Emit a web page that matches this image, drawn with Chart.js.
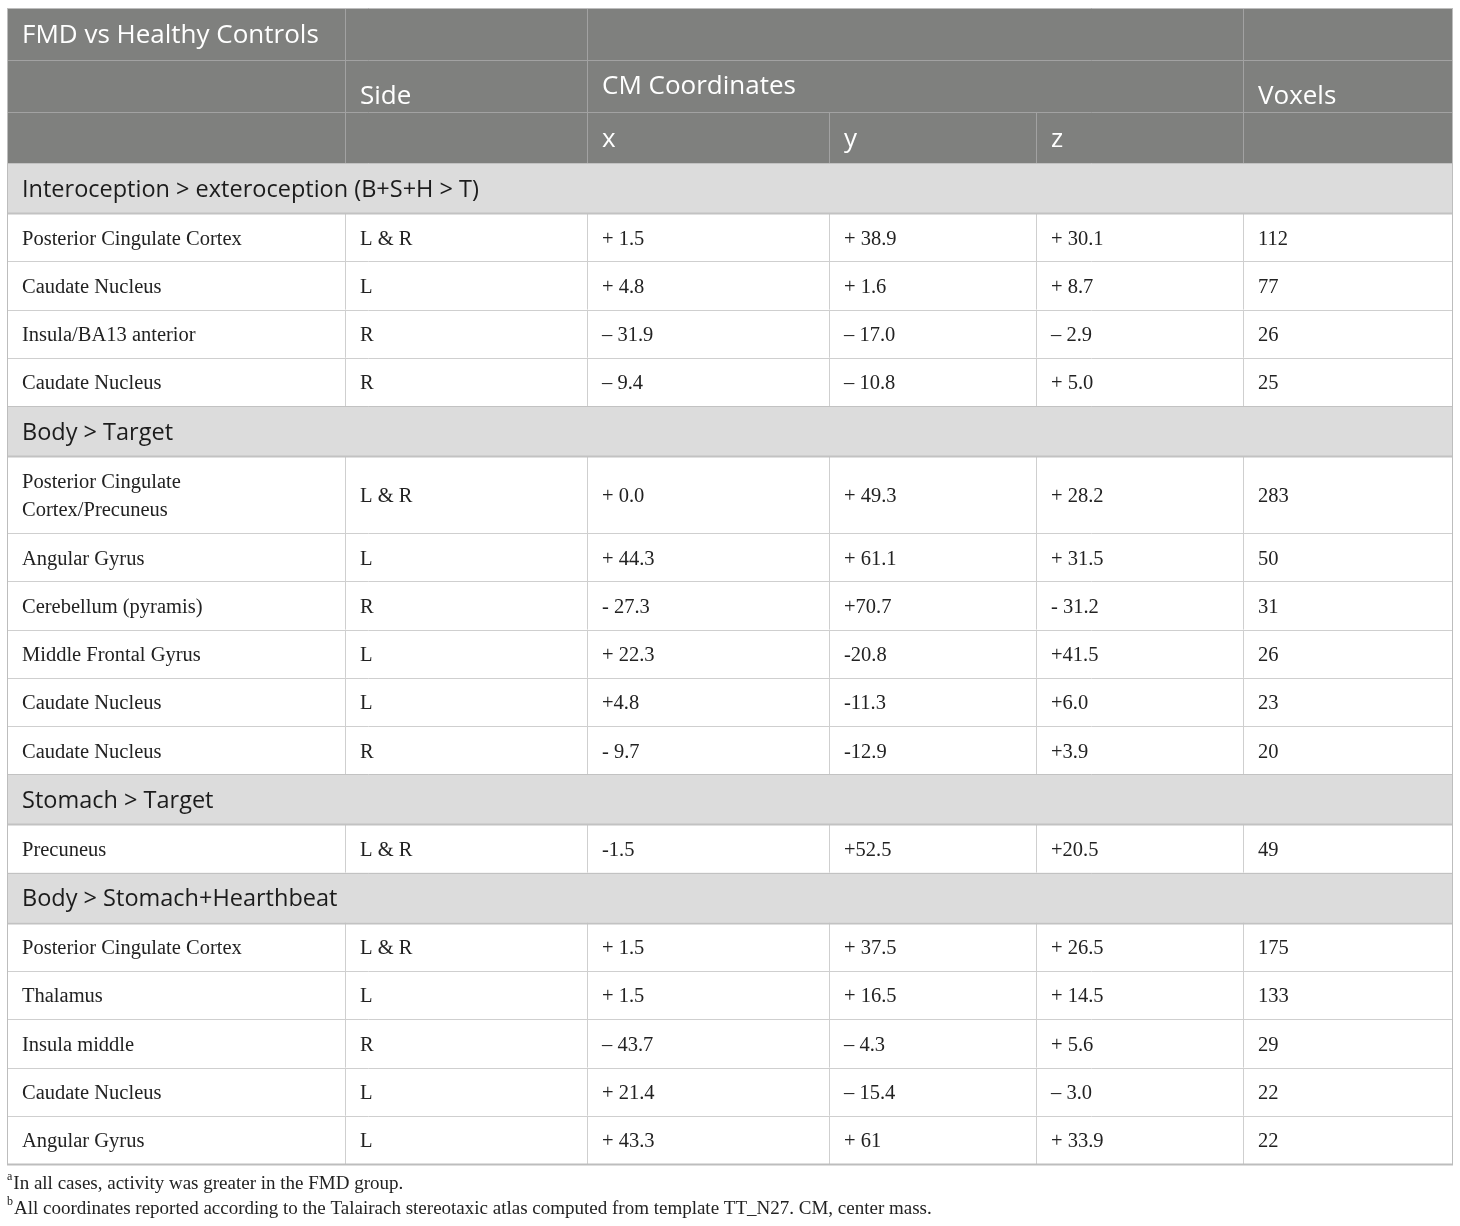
<!DOCTYPE html>
<html><head><meta charset="utf-8">
<script src="https://cdn.jsdelivr.net/npm/chart.js@4.4.1/dist/chart.umd.min.js"></script>
<style>html,body{margin:0;padding:0;background:#fff;}canvas{display:block;}</style>
</head><body>
<canvas id="c" width="1460" height="1226"></canvas>
<script>
// ---------------- DATA ----------------
const tableTitle = "FMD vs Healthy Controls";
const headerSide = "Side";
const headerCoords = "CM Coordinates";
const headerVoxels = "Voxels";
const coordAxes = ["x", "y", "z"];
const sectionTitles = [
  "Interoception > exteroception (B+S+H > T)",
  "Body > Target",
  "Stomach > Target",
  "Body > Stomach+Hearthbeat"
];
const sectionSizes = [4, 6, 1, 5];
const regions = [
  "Posterior Cingulate Cortex", "Caudate Nucleus", "Insula/BA13 anterior", "Caudate Nucleus",
  "Posterior Cingulate Cortex/Precuneus", "Angular Gyrus", "Cerebellum (pyramis)", "Middle Frontal Gyrus", "Caudate Nucleus", "Caudate Nucleus",
  "Precuneus",
  "Posterior Cingulate Cortex", "Thalamus", "Insula middle", "Caudate Nucleus", "Angular Gyrus"
];
const sides = ["L & R", "L", "R", "R", "L & R", "L", "R", "L", "L", "R", "L & R", "L & R", "L", "R", "L", "L"];
const xCoord = ["+ 1.5", "+ 4.8", "\u2013 31.9", "\u2013 9.4", "+ 0.0", "+ 44.3", "- 27.3", "+ 22.3", "+4.8", "- 9.7", "-1.5", "+ 1.5", "+ 1.5", "\u2013 43.7", "+ 21.4", "+ 43.3"];
const yCoord = ["+ 38.9", "+ 1.6", "\u2013 17.0", "\u2013 10.8", "+ 49.3", "+ 61.1", "+70.7", "-20.8", "-11.3", "-12.9", "+52.5", "+ 37.5", "+ 16.5", "\u2013 4.3", "\u2013 15.4", "+ 61"];
const zCoord = ["+ 30.1", "+ 8.7", "\u2013 2.9", "+ 5.0", "+ 28.2", "+ 31.5", "- 31.2", "+41.5", "+6.0", "+3.9", "+20.5", "+ 26.5", "+ 14.5", "+ 5.6", "\u2013 3.0", "+ 33.9"];
const voxels = [112, 77, 26, 25, 283, 50, 31, 26, 23, 20, 49, 175, 133, 29, 22, 22];
const footMarks = ["a", "b"];
const footTexts = [
  "In all cases, activity was greater in the FMD group.",
  "All coordinates reported according to the Talairach stereotaxic atlas computed from template TT_N27. CM, center mass."
];

// ---------------- LAYOUT / STYLE ----------------
const colEdges = [0, 338, 580, 822, 1029, 1236, 1446];
const headerHeights = [52, 52, 51];
const sectionH = 50, lineRowH = 48.27, twoLineH = 77;
const cellPad = 15;
const wrapWidth = 270;
const textDy = 2;
const C = {
  headBg: "#7f807e", headLine: "#a2a2a2", headText: "#ffffff",
  secBg: "#dcdcdc", secLine: "#c2c2c2", secText: "#1c1c1c",
  line: "#cfcfcf", text: "#222222", border: "#bdbdbd"
};
const F = {
  head: "26px 'Open Sans'",
  sec: "23.5px 'Open Sans'",
  body: "20.5px 'Liberation Serif'",
  foot: "19px 'Liberation Serif'",
  sup: "12px 'Liberation Serif'"
};

// measure helper for wrapping
const mctx = document.createElement("canvas").getContext("2d");
function wrap(text, font, maxW) {
  mctx.font = font;
  const words = text.split(" ");
  const lines = [];
  let cur = "";
  for (const w of words) {
    const t = cur ? cur + " " + w : w;
    if (mctx.measureText(t).width > maxW && cur) { lines.push(cur); cur = w; }
    else cur = t;
  }
  if (cur) lines.push(cur);
  return lines;
}

// build row list (table units)
const rows = [];
let yy = 0;
headerHeights.forEach((h, i) => { rows.push({ kind: "head", idx: i, top: yy, h }); yy += h; });
let k = 0;
sectionTitles.forEach((t, s) => {
  rows.push({ kind: "sec", text: t, top: yy, h: sectionH }); yy += sectionH;
  for (let j = 0; j < sectionSizes[s]; j++, k++) {
    const lines = wrap(regions[k], F.body, wrapWidth);
    const h = lines.length > 1 ? twoLineH : lineRowH;
    rows.push({ kind: "data", i: k, lines, top: yy, h }); yy += h;
  }
});
const TABLE_W = colEdges[colEdges.length - 1];
const TABLE_H = yy;

const tablePlugin = {
  id: "tableDraw",
  beforeDraw(chart) {
    const ctx = chart.ctx;
    const xs = chart.scales.x, ys = chart.scales.y;
    const X = v => xs.getPixelForValue(v);
    const Y = v => ys.getPixelForValue(v);
    ctx.save();
    ctx.fillStyle = "#fff";
    ctx.fillRect(0, 0, chart.width, chart.height);

    const hline = (y, x0, x1, col, w) => { ctx.strokeStyle = col; ctx.lineWidth = w || 1; ctx.beginPath(); ctx.moveTo(x0, y); ctx.lineTo(x1, y); ctx.stroke(); };
    const vline = (x, y0, y1, col) => { ctx.strokeStyle = col; ctx.lineWidth = 1; ctx.beginPath(); ctx.moveTo(x, y0); ctx.lineTo(x, y1); ctx.stroke(); };
    const text = (t, col, y, font, color, dy) => {
      ctx.font = font; ctx.fillStyle = color; ctx.textBaseline = "middle"; ctx.textAlign = "left";
      ctx.fillText(t, X(colEdges[col]) + cellPad, y + textDy + (dy || 0));
    };
    const L = X(0), R = X(TABLE_W);

    rows.forEach(r => {
      const y0 = Y(r.top), y1 = Y(r.top + r.h), yc = (y0 + y1) / 2;
      if (r.kind === "head") {
        ctx.fillStyle = C.headBg; ctx.fillRect(L, y0, R - L, y1 - y0);
        let vcols = r.idx < 2 ? [1, 2, 5] : [1, 2, 3, 4, 5];
        vcols.forEach(c => vline(Math.round(X(colEdges[c])) + 0.5, y0, y1, C.headLine));
        if (r.idx > 0) hline(Math.round(y0) + 0.5, L, R, C.headLine);
        if (r.idx === 0) text(tableTitle, 0, yc, F.head, C.headText, 0);
        if (r.idx === 1) {
          text(headerSide, 1, yc, F.head, C.headText, 9);
          text(headerCoords, 2, yc, F.head, C.headText, -1);
          text(headerVoxels, 5, yc, F.head, C.headText, 9);
        }
        if (r.idx === 2) coordAxes.forEach((a, j) => text(a, 2 + j, yc, F.head, C.headText, 0));
      } else if (r.kind === "sec") {
        ctx.fillStyle = C.secBg; ctx.fillRect(L, y0, R - L, y1 - y0);
        text(r.text, 0, yc, F.sec, C.secText, 0);
      } else {
        ctx.fillStyle = "#fff"; ctx.fillRect(L, y0, R - L, y1 - y0);
        [1, 2, 3, 4, 5].forEach(c => vline(Math.round(X(colEdges[c])) + 0.5, y0, y1, C.line));
        const i = r.i;
        const lh = 28;
        r.lines.forEach((ln, j) => text(ln, 0, yc + (j - (r.lines.length - 1) / 2) * lh, F.body, C.text, 0));
        text(sides[i], 1, yc, F.body, C.text, 0);
        text(xCoord[i], 2, yc, F.body, C.text, 0);
        text(yCoord[i], 3, yc, F.body, C.text, 0);
        text(zCoord[i], 4, yc, F.body, C.text, 0);
        text(String(voxels[i]), 5, yc, F.body, C.text, 0);
      }
    });
    // horizontal lines for body
    rows.forEach((r, n) => {
      if (n < 3) return;
      const y0 = Math.round(Y(r.top)) + 0.5;
      const prev = rows[n - 1];
      const col = (r.kind === "sec" || prev.kind === "sec") ? C.secLine : C.line;
      hline(y0, L, R, col, (prev.kind === "sec") ? 2 : 1);
    });
    hline(Math.round(Y(TABLE_H)) + 0.5, L, R, C.border, 2);
    // outer border
    vline(Math.round(L) + 0.5, Y(0), Y(TABLE_H), C.border);
    vline(Math.round(R) - 0.5, Y(0), Y(TABLE_H), C.border);
    hline(Math.round(Y(0)) + 0.5, L, R, C.border, 1);

    // footnotes
    const fb = Y(TABLE_H);
    footTexts.forEach((t, j) => {
      const cy = fb + 20 + j * 25;
      ctx.font = F.sup; ctx.fillStyle = C.text; ctx.textBaseline = "middle"; ctx.textAlign = "left";
      ctx.fillText(footMarks[j], L, cy - 7);
      const mw = ctx.measureText(footMarks[j]).width;
      ctx.font = F.foot;
      ctx.fillText(t, L + mw + 1, cy);
    });
    ctx.restore();
  }
};

new Chart(document.getElementById("c").getContext("2d"), {
  type: "scatter",
  data: { datasets: [{ data: [], pointRadius: 0 }] },
  options: {
    responsive: false, animation: false, devicePixelRatio: 1, events: [],
    layout: { padding: { left: 7, right: 7, top: 8, bottom: 1226 - 8 - TABLE_H } },
    plugins: { legend: { display: false }, tooltip: { enabled: false } },
    scales: {
      x: { type: "linear", min: 0, max: TABLE_W, display: false },
      y: { type: "linear", min: 0, max: TABLE_H, reverse: true, display: false }
    }
  },
  plugins: [tablePlugin]
});
</script>
</body></html>
